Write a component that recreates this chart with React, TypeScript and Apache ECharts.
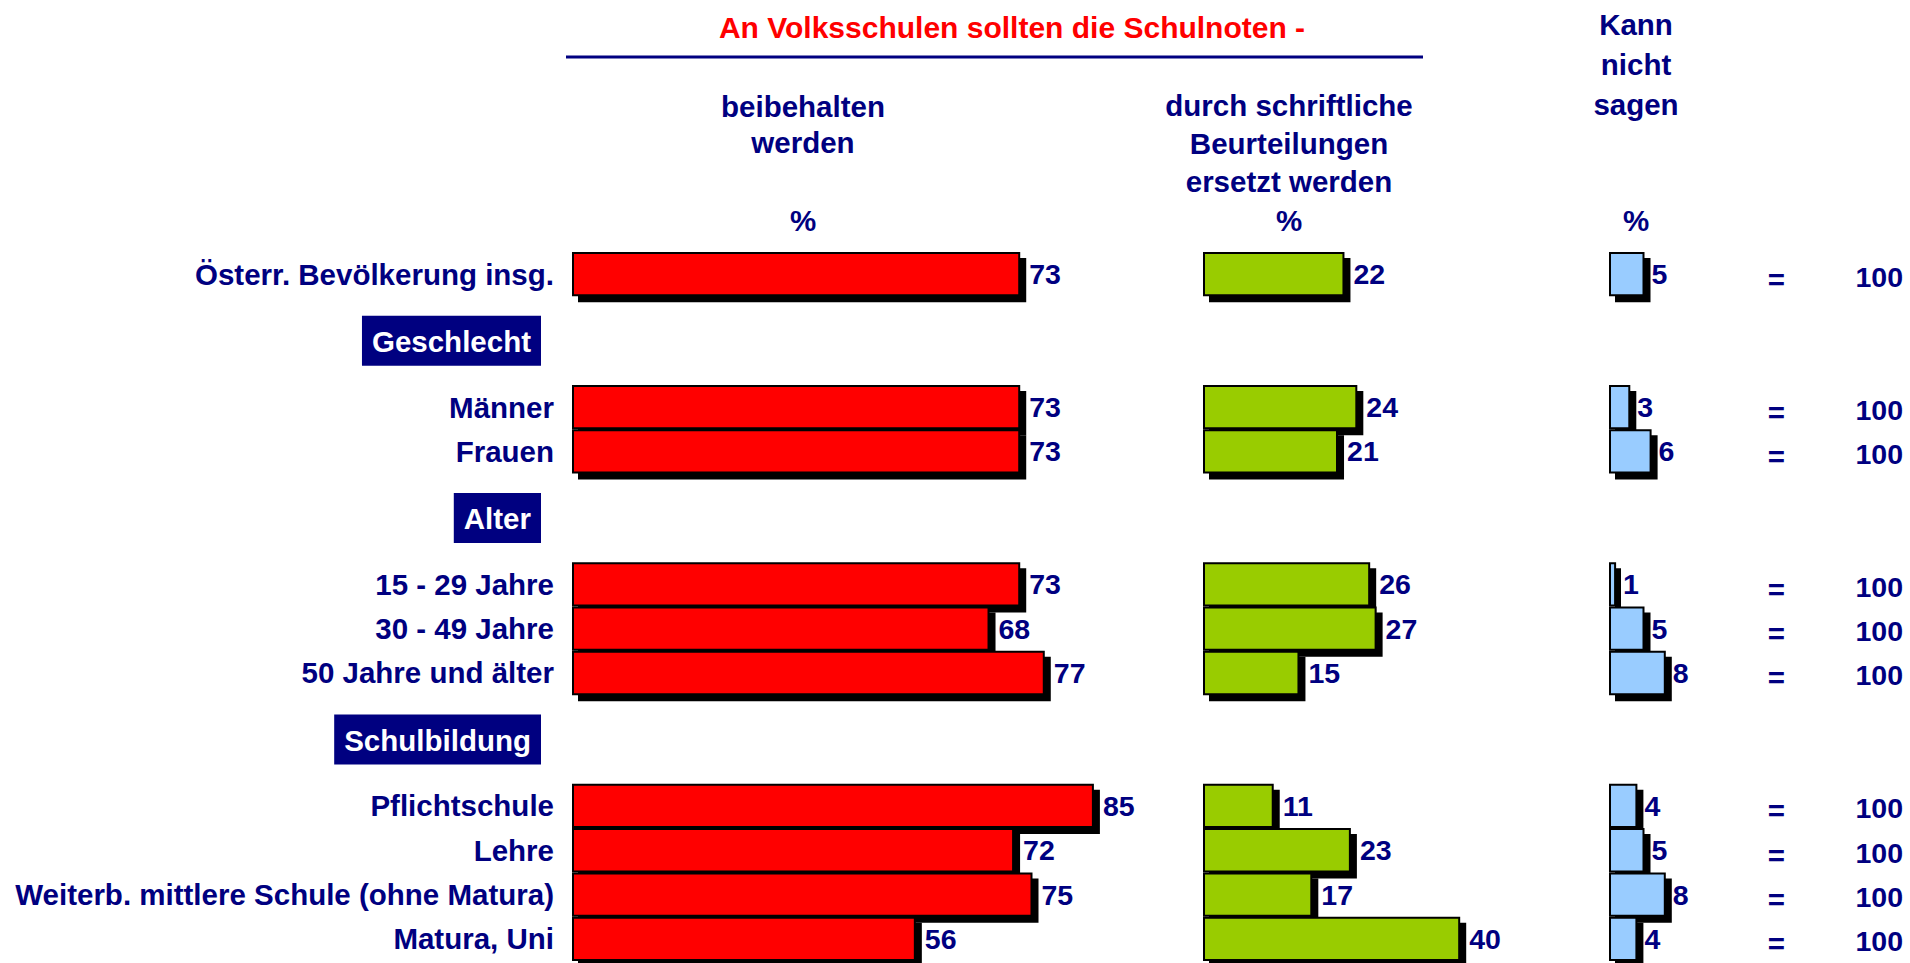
import React, { useEffect, useRef } from "react";
import * as echarts from "echarts";

const mainTitle = "An Volksschulen sollten die Schulnoten -";
const columnHeaders = [
  "beibehalten\nwerden",
  "durch schriftliche\nBeurteilungen\nersetzt werden",
  "Kann\nnicht\nsagen",
];
const unitLabel = "%";

const rowLabels = [
  "Österr. Bevölkerung insg.",
  "Männer",
  "Frauen",
  "15 - 29 Jahre",
  "30 - 49 Jahre",
  "50 Jahre und älter",
  "Pflichtschule",
  "Lehre",
  "Weiterb. mittlere Schule (ohne Matura)",
  "Matura, Uni",
];
const beibehalten = [73, 73, 73, 73, 68, 77, 85, 72, 75, 56];
const ersetzt = [22, 24, 21, 26, 27, 15, 11, 23, 17, 40];
const kannNichtSagen = [5, 3, 6, 1, 5, 8, 4, 5, 8, 4];
const totals = [100, 100, 100, 100, 100, 100, 100, 100, 100, 100];
const sectionTitles = ["Geschlecht", "Alter", "Schulbildung"];
const sectionStartRows = [1, 3, 6];

// slot layout built from the arrays above
const slotKeys: string[] = [];
const slotRow: (number | null)[] = [];
const headerAtBoundary: Record<number, string> = {};
rowLabels.forEach((label, i) => {
  const s = sectionStartRows.indexOf(i);
  if (s >= 0) {
    const g = slotKeys.length;
    slotKeys.push(`gap${g}`, `gap${g + 1}`);
    slotRow.push(null, null);
    headerAtBoundary[g + 1] = sectionTitles[s];
  }
  slotKeys.push(label);
  slotRow.push(i);
});
const boundaryKeys = Array.from(
  { length: slotKeys.length + 1 },
  (_, k) => headerAtBoundary[k] ?? `b${k}`
);

const FONT = "'Liberation Sans', Arial, Helvetica, sans-serif";
const NAVY = "#000080";
const FS = 29.5;

const toSlots = (arr: number[]) =>
  slotRow.map((r) => (r === null ? "-" : arr[r]));

const GRID_TOP = 252;
const GRID_H = 709;

function barSeries(values: number[], color: string, xi: number, yi: number, dist: number) {
  return {
    type: "bar",
    xAxisIndex: xi,
    yAxisIndex: yi,
    data: toSlots(values),
    barCategoryGap: "0%",
    itemStyle: {
      color,
      borderColor: "#000",
      borderWidth: 2,
      shadowColor: "#000",
      shadowOffsetX: 6,
      shadowOffsetY: 6,
      shadowBlur: 0,
    },
    label: {
      show: true,
      position: "right",
      distance: dist,
      color: NAVY,
      fontWeight: "bold",
      fontSize: 28.5,
      fontFamily: FONT,
      formatter: "{c}",
    },
  };
}

function headerText(text: string, x: number, y: number, lineHeight: number, fill = NAVY, size = FS) {
  return {
    type: "text",
    x,
    y,
    style: {
      text,
      fill,
      font: `bold ${size}px ${FONT}`,
      align: "center",
      verticalAlign: "middle",
      textAlign: "center",
      textVerticalAlign: "middle",
      lineHeight,
    },
  };
}

export default function App() {
  const ref = useRef<HTMLDivElement>(null);
  useEffect(() => {
    if (!ref.current) return;
    const chart = echarts.init(ref.current, undefined, { renderer: "svg" });
    const hiddenCat = (gridIndex: number) => ({
      type: "category",
      gridIndex,
      data: slotKeys,
      inverse: true,
      show: false,
    });
    const axisMax = [100, 100, 40, 1];
    const option: any = {
      animation: false,
      backgroundColor: "#fff",
      grid: [
        { left: 572, top: GRID_TOP, width: 614, height: GRID_H },
        { left: 1203, top: GRID_TOP, width: 643, height: GRID_H },
        { left: 1609, top: GRID_TOP, width: 284, height: GRID_H },
        { left: 1903, top: GRID_TOP, width: 2, height: GRID_H },
      ],
      xAxis: [0, 1, 2, 3].map((i) => ({
        type: "value",
        gridIndex: i,
        min: 0,
        max: axisMax[i],
        show: false,
      })),
      yAxis: [
        {
          type: "category",
          gridIndex: 0,
          data: slotKeys,
          inverse: true,
          position: "left",
          axisLine: { show: false },
          axisTick: { show: false },
          splitLine: { show: false },
          axisLabel: {
            interval: 0,
            margin: 18,
            color: NAVY,
            fontWeight: "bold",
            fontSize: FS,
            fontFamily: FONT,
            formatter: (v: string) => (v.startsWith("gap") ? "" : v),
          },
        },
        {
          type: "category",
          gridIndex: 0,
          data: boundaryKeys,
          boundaryGap: false,
          inverse: true,
          position: "left",
          axisLine: { show: false },
          axisTick: { show: false },
          splitLine: { show: false },
          axisLabel: {
            interval: 0,
            margin: 31,
            formatter: (_v: string, idx: number) =>
              headerAtBoundary[idx] ? `{box|${headerAtBoundary[idx]}}` : "",
            rich: {
              box: {
                backgroundColor: NAVY,
                color: "#fff",
                padding: [11, 10, 9, 10],
                fontWeight: "bold",
                fontSize: FS,
                fontFamily: FONT,
                lineHeight: 29,
              },
            },
          },
        },
        hiddenCat(1),
        hiddenCat(2),
        {
          type: "category",
          gridIndex: 3,
          data: slotKeys,
          inverse: true,
          position: "left",
          axisLine: { show: false },
          axisTick: { show: false },
          splitLine: { show: false },
          axisLabel: {
            interval: 0,
            margin: 0,
            formatter: (_v: string, idx: number) => {
              const r = slotRow[idx];
              return r === null ? "" : `{eq|=}{num|${totals[r]}}`;
            },
            rich: {
              eq: {
                width: 158,
                align: "center",
                color: NAVY,
                fontWeight: "bold",
                fontSize: FS,
                fontFamily: FONT,
                padding: [10, 0, 0, 0],
              },
              num: {
                color: NAVY,
                fontWeight: "bold",
                fontSize: 28.5,
                fontFamily: FONT,
                padding: [5, 0, 0, 0],
              },
            },
          },
        },
      ],
      series: [
        barSeries(beibehalten, "#FF0000", 0, 0, 9),
        barSeries(ersetzt, "#99CC00", 1, 2, 9),
        barSeries(kannNichtSagen, "#99CCFF", 2, 3, 7),
      ],
      graphic: [
        headerText(mainTitle, 1012, 27, 30, "#FF0000", 30),
        {
          type: "line",
          shape: { x1: 566, y1: 57, x2: 1423, y2: 57 },
          style: { stroke: NAVY, lineWidth: 3 },
        },
        headerText(columnHeaders[0], 803, 124, 36),
        headerText(columnHeaders[1], 1289, 143, 38),
        headerText(columnHeaders[2], 1636, 64, 40),
        headerText(unitLabel, 803, 220, 30),
        headerText(unitLabel, 1289, 220, 30),
        headerText(unitLabel, 1636, 220, 30),
      ],
    };
    chart.setOption(option);
    return () => chart.dispose();
  }, []);
  return (
    <div
      ref={ref}
      style={{
        position: "fixed",
        left: 0,
        top: 0,
        width: "1910px",
        height: "963px",
        background: "#fff",
      }}
    />
  );
}
